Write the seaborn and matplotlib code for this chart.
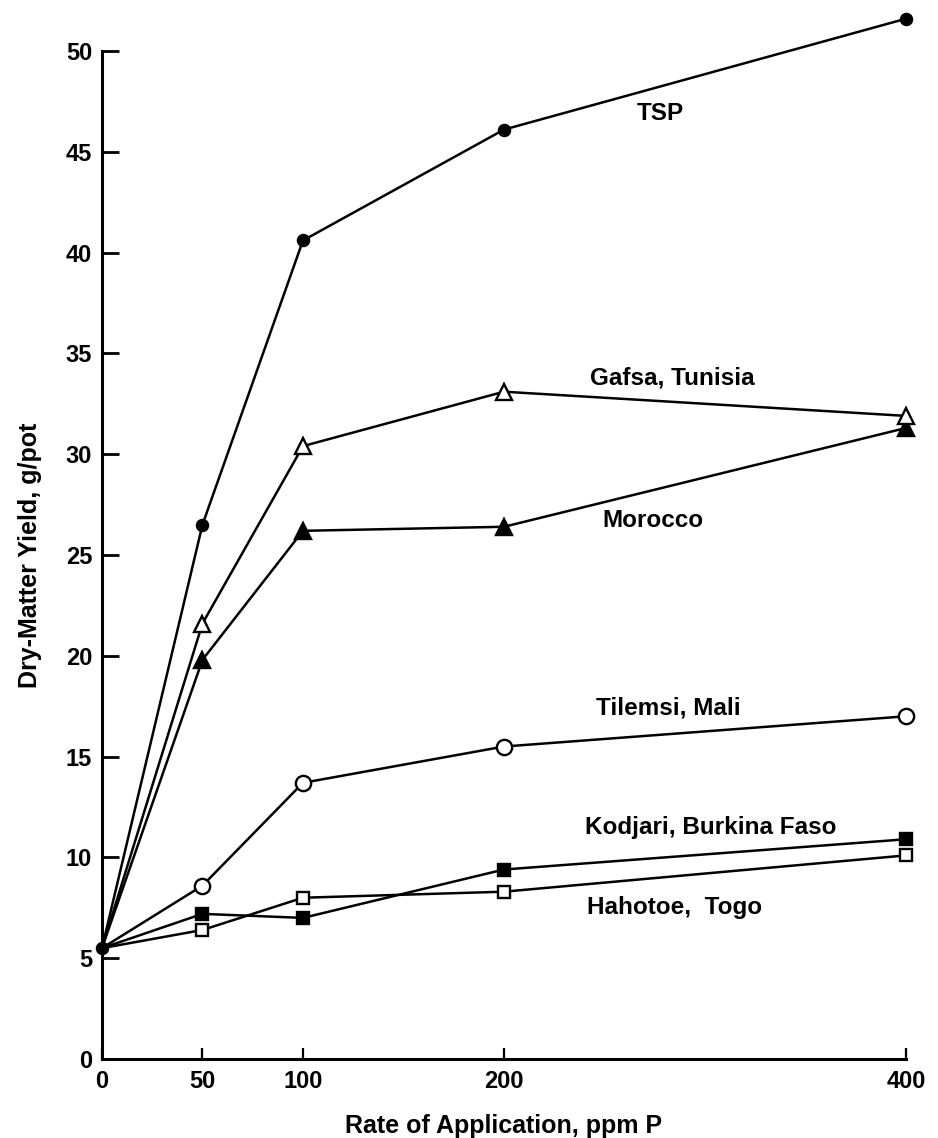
import numpy as np
import pandas as pd
import matplotlib
matplotlib.use("Agg")
import matplotlib.pyplot as plt
import seaborn as sns

# rate of application, ppm P
rates = [0, 50, 100, 200, 400]

# dry-matter yield, g/pot
tsp = [5.5, 26.5, 40.6, 46.1, 51.6]
gafsa = [5.5, 21.6, 30.4, 33.1, 31.9]
morocco = [5.5, 19.8, 26.2, 26.4, 31.3]
tilemsi = [5.5, 8.6, 13.7, 15.5, 17.0]
kodjari = [5.5, 7.2, 7.0, 9.4, 10.9]
hahotoe = [5.5, 6.4, 8.0, 8.3, 10.1]

series_names = ["TSP", "Gafsa, Tunisia", "Morocco", "Tilemsi, Mali",
                "Kodjari, Burkina Faso", "Hahotoe,  Togo"]
series_vals = [tsp, gafsa, morocco, tilemsi, kodjari, hahotoe]

x_ticks = [0, 50, 100, 200, 400]
y_ticks = [0, 5, 10, 15, 20, 25, 30, 35, 40, 45, 50]

sns.set_theme(style="ticks")
plt.rcParams['font.family'] = ['Liberation Sans', 'DejaVu Sans']
plt.rcParams['font.weight'] = 'bold'
plt.rcParams['text.color'] = 'black'
plt.rcParams['axes.labelcolor'] = 'black'
plt.rcParams['xtick.color'] = 'black'
plt.rcParams['ytick.color'] = 'black'

df = pd.DataFrame({
    'rate': rates * len(series_names),
    'yield': [v for vals in series_vals for v in vals],
    'source': [n for n in series_names for _ in rates],
})

# marker style per series: (marker, face colour, size, show origin marker)
styles = {
    "TSP": ('o', 'black', 8, True),
    "Gafsa, Tunisia": ('^', 'white', 11, False),
    "Morocco": ('^', 'black', 11, False),
    "Tilemsi, Mali": ('o', 'white', 11, False),
    "Kodjari, Burkina Faso": ('s', 'black', 8.5, False),
    "Hahotoe,  Togo": ('s', 'white', 8.5, False),
}

fig = plt.figure(figsize=(9.38, 11.38), dpi=100)
ax = fig.add_axes([0.1087, 0.0694, 0.8571, 0.8858])

order = ["Hahotoe,  Togo", "Kodjari, Burkina Faso", "Tilemsi, Mali",
         "Morocco", "Gafsa, Tunisia", "TSP"]
for name in order:
    mk, fc, ms, first = styles[name]
    sub = df[df['source'] == name]
    sns.lineplot(data=sub, x='rate', y='yield', ax=ax, color='black',
                 linewidth=1.8, marker=mk, markersize=ms,
                 markerfacecolor=fc, markeredgecolor='black', markeredgewidth=1.7,
                 markevery=None if first else slice(1, None),
                 estimator=None, sort=False, clip_on=False, zorder=3)

# series labels
lab_fs = 17.5
ax.text(278, 46.9, "TSP", ha='center', va='center', fontsize=lab_fs, fontweight='bold')
ax.text(284, 33.8, "Gafsa, Tunisia", ha='center', va='center', fontsize=lab_fs, fontweight='bold')
ax.text(274, 26.7, "Morocco", ha='center', va='center', fontsize=lab_fs, fontweight='bold')
ax.text(282, 17.4, "Tilemsi, Mali", ha='center', va='center', fontsize=lab_fs, fontweight='bold')
ax.text(303, 11.5, "Kodjari, Burkina Faso", ha='center', va='center', fontsize=lab_fs, fontweight='bold')
ax.text(285, 7.5, "Hahotoe,  Togo", ha='center', va='center', fontsize=lab_fs, fontweight='bold')

ax.set_xlim(0, 400)
ax.set_ylim(0, 50)
ax.set_xticks(x_ticks)
ax.set_yticks(y_ticks)
ax.set_xticklabels([str(t) for t in x_ticks], fontsize=17, fontweight='bold')
ax.set_yticklabels([str(t) for t in y_ticks], fontsize=17, fontweight='bold')
ax.tick_params(axis='y', direction='in', length=12, width=2, pad=7, colors='black')
ax.tick_params(axis='x', direction='in', length=8, width=1.6, pad=8, colors='black')

sns.despine(ax=ax)
for s in ['left', 'bottom']:
    ax.spines[s].set_linewidth(2.2)
    ax.spines[s].set_color('black')

ax.set_xlabel("Rate of Application, ppm P", fontsize=18, fontweight='bold', color='black')
ax.set_ylabel("Dry-Matter Yield, g/pot", fontsize=18, fontweight='bold', color='black')
ax.xaxis.set_label_coords(0.5, -0.055)
ax.yaxis.set_label_coords(-0.074, 0.5)

if ax.get_legend() is not None:
    ax.get_legend().remove()

fig.savefig("out.png", dpi=100, facecolor='white')
